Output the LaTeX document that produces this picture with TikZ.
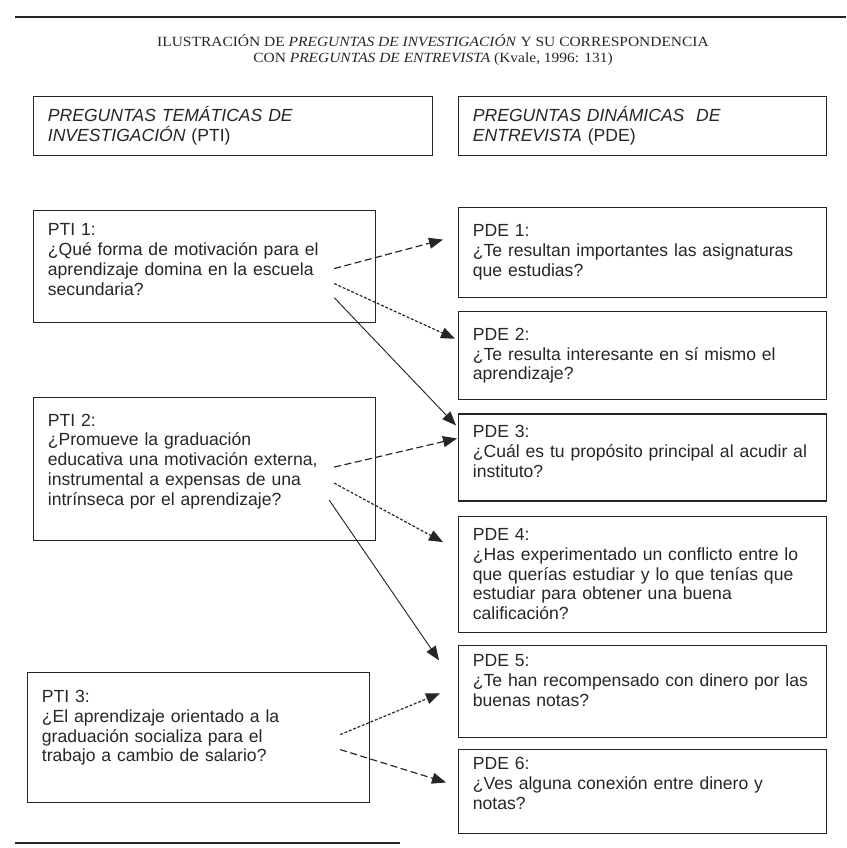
\documentclass[tikz,border=0pt]{standalone}
\usepackage{fontspec}
\setmainfont{Liberation Sans}
\newfontfamily\titlefont[FakeStretch=1.1]{Liberation Serif}
\usetikzlibrary{positioning,calc,arrows.meta}
\definecolor{ink}{gray}{0.15}
\newcommand{\padbelow}[1]{\rule[-#1]{0pt}{#1}}

\begin{document}
\begin{tikzpicture}[x=0.3mm,y=-0.3mm,font=\fontsize{15}{17}\selectfont,
  qbox/.style={draw=ink,line width=1pt,text=ink,align=left,inner xsep=4.3mm,inner ysep=1.5mm},
  ptibox/.style={qbox,text width=94mm,anchor=north west},
  pdebox/.style={qbox,text width=101.8mm},
  tip/.style={-{Triangle[length=4.2mm,width=3.3mm]}},
  dashlink/.style={draw=ink,line width=1pt,tip,dash pattern=on 6pt off 3pt},
  dotlink/.style={draw=ink,line width=1pt,tip,dash pattern=on 2.5pt off 1.5pt},
  solidlink/.style={draw=ink,line width=0.8pt,tip}]
  \useasboundingbox (0,0) rectangle (846,848);
  \draw[ink,line width=2.4pt] (15,17) -- (846,17);
  \draw[ink,line width=1.6pt] (15,843) -- (400,843);
  \node[text=ink,align=center,font=\titlefont\fontsize{12}{13.6}\selectfont] (title) at (433,50)
    {ILUSTRACIÓN DE \textit{PREGUNTAS DE INVESTIGACIÓN} Y SU CORRESPONDENCIA\\
     CON \textit{PREGUNTAS DE ENTREVISTA} (Kvale, 1996: 131)};
  % headings
  \node[ptibox,text width=111.1mm,minimum height=17.7mm] (ptihead) at (33,96)
    {\textit{PREGUNTAS TEMÁTICAS DE}\\\textit{INVESTIGACIÓN} (PTI)};
  \node[pdebox,anchor=north west,minimum height=17.7mm] (pdehead) at (458,96)
    {\textit{PREGUNTAS DINÁMICAS\ \ DE}\\\textit{ENTREVISTA} (PDE)};
  % research questions
  \node[ptibox,minimum height=33.6mm] (pti1) at (33,210)
    {PTI 1:\\¿Qué forma de motivación para el\\aprendizaje domina en la escuela\\secundaria?\padbelow{4.2mm}};
  \node[ptibox,minimum height=42.9mm] (pti2) at (33,397)
    {PTI 2:\\¿Promueve la graduación\\educativa una motivación externa,\\instrumental a expensas de una\\intrínseca por el aprendizaje?\padbelow{5.6mm}};
  \node[ptibox,minimum height=39mm] (pti3) at (27,672)
    {PTI 3:\\¿El aprendizaje orientado a la\\graduación socializa para el\\trabajo a cambio de salario?\padbelow{7mm}};
  % interview questions
  \node[pdebox,anchor=north west,minimum height=27mm] (pde1) at (458,207)
    {PDE 1:\\¿Te resultan importantes las asignaturas\\que estudias?};
  \node[pdebox,minimum height=26.4mm,below=3.9mm of pde1] (pde2)
    {PDE 2:\\¿Te resulta interesante en sí mismo el\\aprendizaje?};
  \node[pdebox,minimum height=26.1mm,below=3.9mm of pde2] (pde3)
    {PDE 3:\\¿Cuál es tu propósito principal al acudir al\\instituto?\padbelow{3.6mm}};
  \node[pdebox,minimum height=34.8mm,below=4.2mm of pde3] (pde4)
    {PDE 4:\\¿Has experimentado un conflicto entre lo\\que querías estudiar y lo que tenías que\\estudiar para obtener una buena\\calificación?};
  \node[pdebox,minimum height=27.6mm,below=3.6mm of pde4] (pde5)
    {PDE 5:\\¿Te han recompensado con dinero por las\\buenas notas?\padbelow{6.4mm}};
  \node[pdebox,minimum height=25.2mm,below=3.3mm of pde5] (pde6)
    {PDE 6:\\¿Ves alguna conexión entre dinero y\\notas?\padbelow{4.8mm}};
  % links
  \draw[dashlink] ($(pti1.east)+(-42,2)$) -- ($(pde1.west)+(-15,-13)$);
  \draw[dotlink] ($(pti1.east)+(-42,17)$) -- ($(pde2.west)+(-3,-17)$);
  \draw[solidlink] ($(pti1.east)+(-42,31)$) -- ($(pde3.west)+(-2,-32)$);
  \draw[dashlink] ($(pti2.east)+(-42,-2)$) -- ($(pde3.west)+(-1,-19)$);
  \draw[dotlink] ($(pti2.east)+(-42,14)$) -- ($(pde4.west)+(-15,-32)$);
  \draw[solidlink] ($(pti2.east)+(-47,31)$) -- ($(pde5.west)+(-19,-31)$);
  \draw[dotlink] ($(pti3.east)+(-30,-3)$) -- ($(pde5.west)+(-18,2)$);
  \draw[dashlink] ($(pti3.east)+(-30,12)$) -- ($(pde6.west)+(-12,-9)$);
\end{tikzpicture}
\end{document}
